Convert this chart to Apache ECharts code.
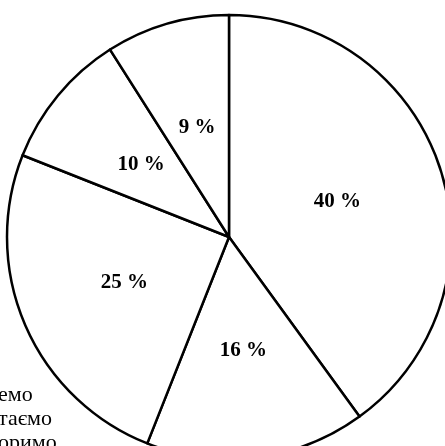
<!DOCTYPE html>
<html>
<head>
<meta charset="utf-8">
<script src="https://cdn.jsdelivr.net/npm/echarts@6/dist/echarts.min.js"></script>
<style>
  html, body { margin: 0; padding: 0; background: #fff; }
  #chart { width: 445px; height: 446px; }
</style>
</head>
<body>
<div id="chart"></div>
<script>
  // shares in percent, clockwise from the top
  const shares = [40, 16, 25, 10, 9]
  const sliceNames = ['a', 'b', 'c', 'd', 'e']
  // cut-off legend words at the lower left
  const legendBits = ['емо', 'таємо', 'оримо']

  const chart = echarts.init(document.getElementById('chart'))

  const options = {
    backgroundColor: '#fff',
    animation: false,
    graphic: legendBits.map((t, i) => ({
      type: 'text',
      left: -2,
      top: 384 + i * 24,
      style: {
        text: t,
        font: '22px "Liberation Serif"',
        fill: '#000'
      }
    })),
    series: [{
      type: 'pie',
      center: [229, 237],
      radius: 222,
      startAngle: 90,
      clockwise: true,
      itemStyle: {
        color: '#fff',
        borderColor: '#000',
        borderWidth: 2.5
      },
      label: {
        position: 'inner',
        formatter: p => p.value + ' %',
        color: '#000',
        fontFamily: 'Liberation Serif',
        fontSize: 21,
        fontWeight: 'bold'
      },
      labelLine: { show: false },
      emphasis: { disabled: true },
      data: shares.map((v, i) => ({ name: sliceNames[i], value: v }))
    }]
  }

  chart.setOption(options, true)
</script>
</body>
</html>
